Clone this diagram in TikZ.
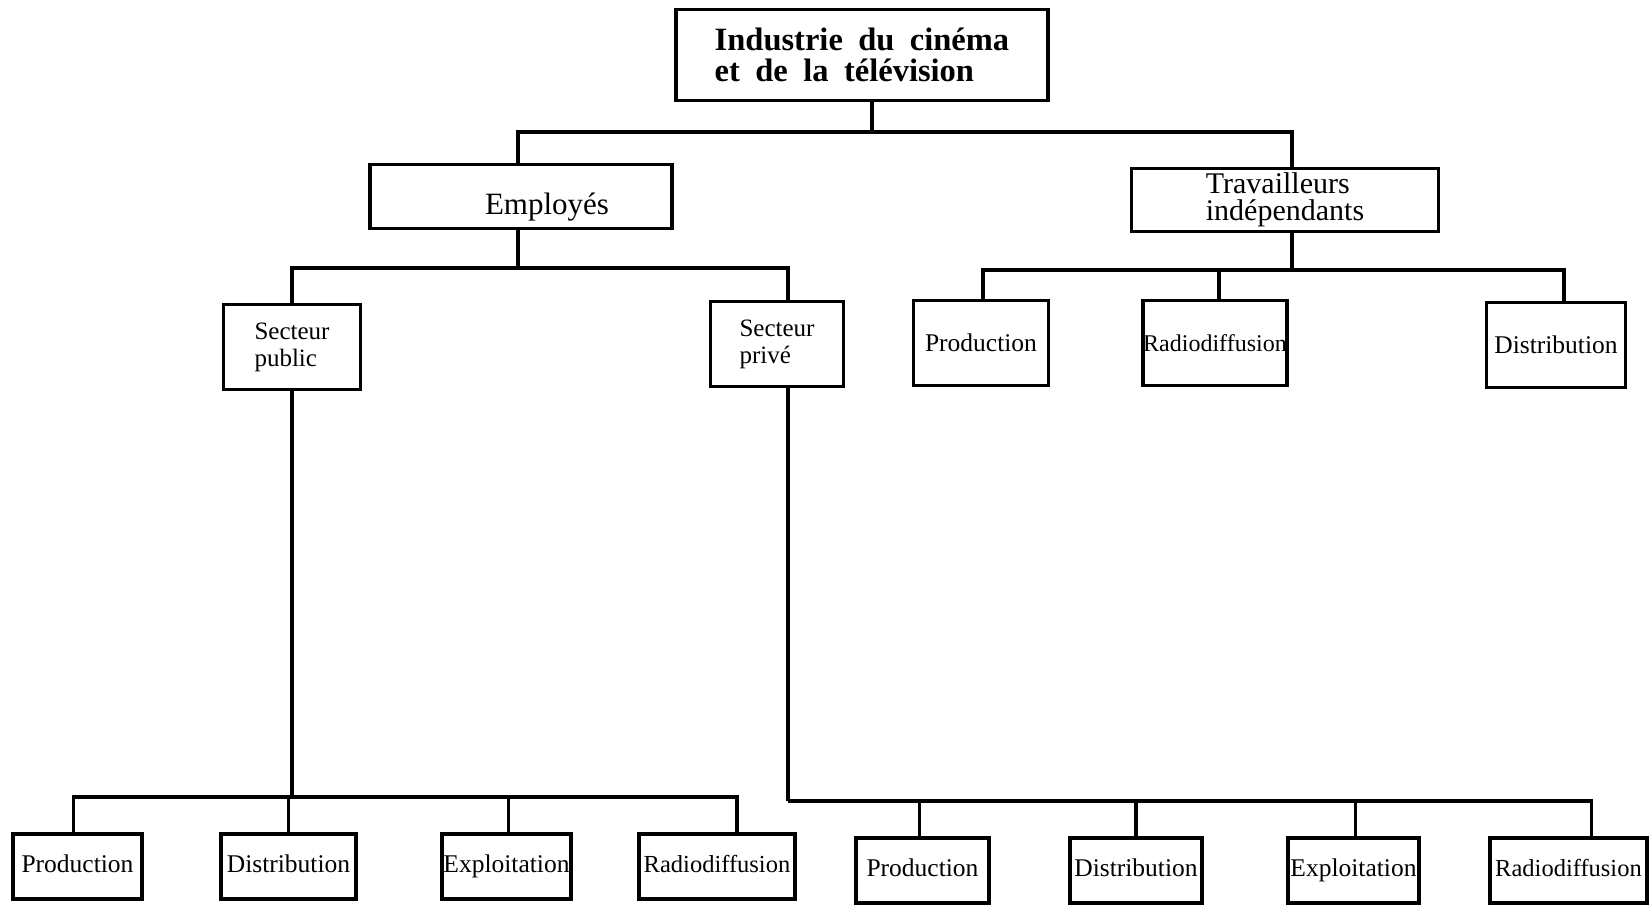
\documentclass[tikz,border=0pt]{standalone}
\usepackage{fontspec}
\setmainfont{Liberation Serif}
\newfontfamily\titlefont{Liberation Serif}[WordSpace=1.9]

\tikzset{
  box/.style={draw, line width=3.5pt, inner sep=0pt},
  link/.style={line width=3.6pt},
  sector/.style={box, minimum width=137pt, minimum height=85pt, align=left, font=\fontsize{25}{27}\selectfont},
  branch/.style={box, minimum height=85pt, font=\fontsize{25.5}{27}\selectfont},
  leaf/.style={box, minimum height=65pt, text height=17pt, text depth=6pt, font=\fontsize{25.5}{27}\selectfont},
}

\begin{document}
\begin{tikzpicture}[x=1pt, y=-1pt]
\useasboundingbox (0,0) rectangle (1649,908);

% sommet
\node[box, minimum width=372pt, minimum height=91pt, align=left, font=\titlefont\bfseries\fontsize{32.5}{31}\selectfont] (ind) at (862,55) {Industrie du cinéma\\et de la télévision};

% deuxieme niveau
\node[box, minimum width=302pt, minimum height=64pt, text height=42pt, font=\fontsize{31}{31}\selectfont] (emp) at (521,196.5) {\hspace*{52pt}Employés};
\node[box, minimum width=307pt, minimum height=63pt, align=left, font=\fontsize{30}{27}\selectfont] (indep) at (1285,200) {Travailleurs\\indépendants};

% secteurs
\node[sector] (pub) at (292,347) {Secteur\\public};
\node[sector, minimum width=133pt] (priv) at (777,344) {Secteur\\privé};

% travailleurs independants
\node[branch, minimum width=135pt] (prod) at (981,343) {Production};
\node[branch, minimum width=140pt, font=\fontsize{24}{27}\selectfont] (radio) at (1215,343) {Radiodiffusion};
\node[branch, minimum width=139pt] (distr) at (1556,345) {Distribution};

% secteur public
\node[leaf, minimum width=129pt] (pubprod) at (77.5,866.5) {Production};
\node[leaf, minimum width=135pt] (pubdistr) at (288.5,866.5) {Distribution};
\node[leaf, minimum width=129pt] (pubexpl) at (506.5,866.5) {Exploitation};
\node[leaf, minimum width=156pt, font=\fontsize{24.5}{27}\selectfont] (pubradio) at (717,866.5) {Radiodiffusion};

% secteur prive
\node[leaf, minimum width=133pt] (privprod) at (922.5,870.5) {Production};
\node[leaf, minimum width=132pt] (privdistr) at (1136,870.5) {Distribution};
\node[leaf, minimum width=131pt] (privexpl) at (1353.5,870.5) {Exploitation};
\node[leaf, minimum width=157pt, font=\fontsize{24.5}{27}\selectfont] (privradio) at (1568.5,870.5) {Radiodiffusion};

% liaisons
\coordinate (bar1) at (872,132);
\draw[link] ([xshift=10pt]ind.south) -- (bar1);
\draw[link] ([xshift=-3pt]emp.north) |- (bar1);
\draw[link] ([xshift=7pt]indep.north) |- (bar1);

\coordinate (bar2) at (518,268);
\draw[link] ([xshift=-3pt]emp.south) -- (bar2);
\draw[link] (pub.north) |- (bar2);
\draw[link] ([xshift=11pt]priv.north) |- (bar2);

\coordinate (bar3) at (1292,270);
\draw[link] ([xshift=7pt]indep.south) -- (bar3);
\draw[link] ([xshift=2pt]prod.north) |- (bar3);
\draw[link] ([xshift=4pt]radio.north) |- (bar3);
\draw[link] ([xshift=8pt]distr.north) |- (bar3);

\coordinate (bar4) at (292,797);
\draw[link] (pub.south) -- (bar4);
\draw[link] ([xshift=-4pt]pubprod.north) |- (bar4);
\draw[link] (pubdistr.north) |- (bar4);
\draw[link] ([xshift=2pt]pubexpl.north) |- (bar4);
\draw[link] ([xshift=20pt]pubradio.north) |- (bar4);

\coordinate (bar5) at (788,801);
\draw[link] ([xshift=11pt]priv.south) -- (bar5);
\draw[link] ([xshift=-3pt]privprod.north) |- (bar5);
\draw[link] (privdistr.north) |- (bar5);
\draw[link] ([xshift=2pt]privexpl.north) |- (bar5);
\draw[link] ([xshift=23pt]privradio.north) |- (bar5);
\end{tikzpicture}
\end{document}
